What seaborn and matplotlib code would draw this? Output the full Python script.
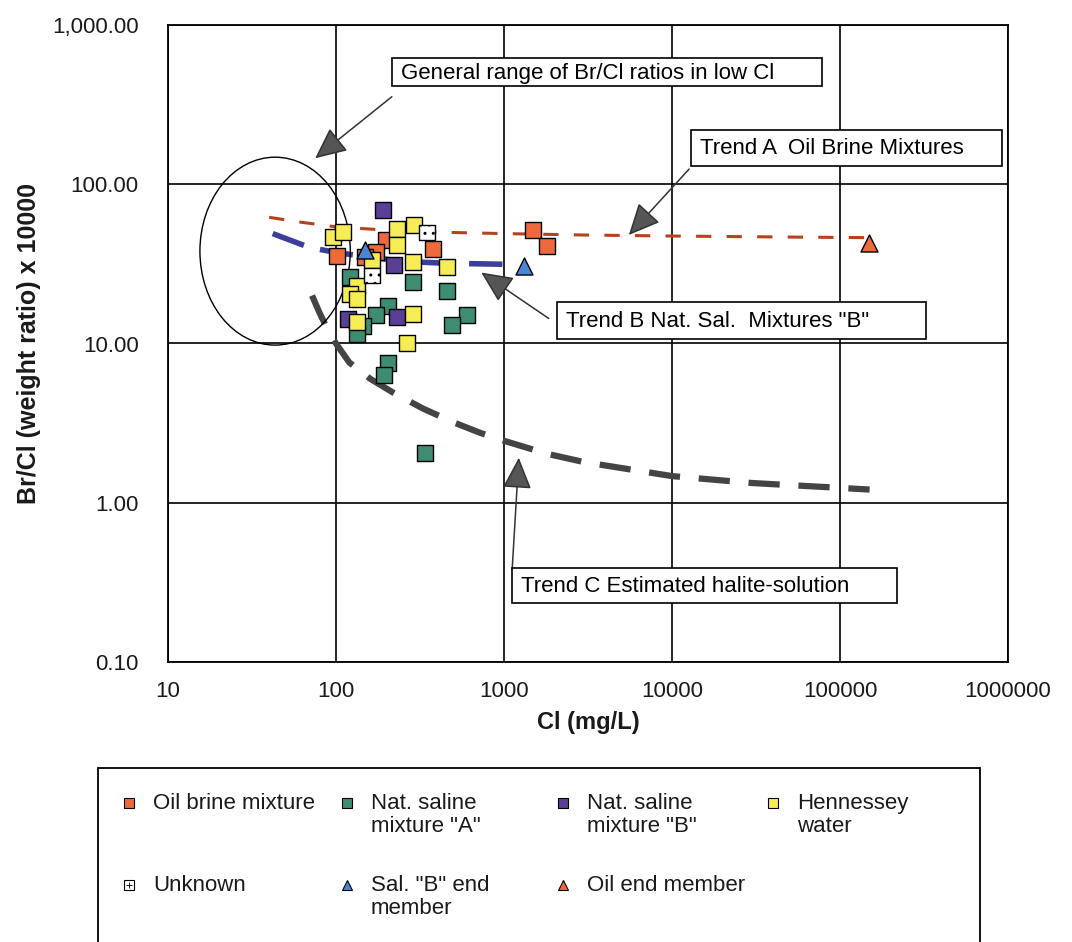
import numpy as np
import pandas as pd
import matplotlib
matplotlib.use("Agg")
import matplotlib.pyplot as plt
import seaborn as sns
from matplotlib.lines import Line2D
from matplotlib.patches import Ellipse, Rectangle, FancyArrowPatch

# ---------------- data ----------------
oil_brine_x = [199, 378, 1490, 1803, 101, 173, 149]
oil_brine_y = [44.5, 39.0, 51.4, 40.7, 35.2, 37.3, 34.8]

nat_a_x = [121, 287, 458, 204, 173, 603, 490, 145, 133, 204, 193, 339]
nat_a_y = [26.0, 24.5, 21.5, 17.1, 15.2, 15.0, 13.0, 12.8, 11.4, 7.5, 6.3, 2.06]

nat_b_x = [190, 221, 231, 118]
nat_b_y = [68.5, 31.0, 14.6, 14.2]

henn_x = [96, 110, 231, 291, 231, 164, 287, 458, 133, 121, 133, 287, 133, 265]
henn_y = [46.4, 49.9, 52.1, 55.2, 41.3, 33.3, 32.3, 30.1, 22.8, 20.6, 18.9, 15.4, 13.7, 10.1]

unknown_x = [348, 164]
unknown_y = [49.9, 26.8]

salb_end_x = [1315, 149]
salb_end_y = [30.5, 38.5]

oil_end_x = [149000]
oil_end_y = [42.6]

trendA_x = [40, 60, 100, 200, 400, 1000, 3000, 10000, 50000, 150000]
trendA_y = [62, 58, 54, 51.5, 50, 49, 48, 47.3, 46.6, 46.2]

trendB_x = [42, 55, 70, 100, 160, 250, 450, 1086]
trendB_y = [49, 44, 40, 37.3, 34.8, 32.8, 31.9, 31.4]

trendC_x = [72, 80, 90, 100, 120, 160, 220, 330, 500, 720, 1000, 1800, 3000,
            10000, 30000, 100000, 150000]
trendC_y = [20, 15.5, 12, 10, 7.6, 6.0, 4.9, 3.9, 3.2, 2.75, 2.45, 2.03, 1.8,
            1.47, 1.33, 1.24, 1.21]

y_ticks = [0.1, 1, 10, 100, 1000]
y_tick_labels = ["0.10", "1.00", "10.00", "100.00", "1,000.00"]
x_ticks = [10, 100, 1000, 10000, 100000, 1000000]
x_tick_labels = ["10", "100", "1000", "10000", "100000", "1000000"]

legend_labels = ["Oil brine mixture", "Nat. saline\nmixture \"A\"", "Nat. saline\nmixture \"B\"",
                 "Hennessey\nwater", "Unknown", "Sal. \"B\" end\nmember", "Oil end member"]

# ---------------- style ----------------
sns.set_style("white")
FONT = ["Liberation Sans", "DejaVu Sans"]
plt.rcParams["font.family"] = FONT

C_ORANGE = "#EE6A3C"
C_GREEN = "#3E8C72"
C_PURPLE = "#5A3F97"
C_YELLOW = "#F6EC55"
C_BLUE = "#4A86D6"
TXT = "#1a1a1a"

W, H = 1072, 942
fig = plt.figure(figsize=(W / 100, H / 100), dpi=100)


def F(px, py):
    return (px / W, 1 - py / H)


ax = fig.add_axes([168 / W, 1 - 662 / H, 840 / W, 637 / H])
ax.set_xscale("log")
ax.set_yscale("log")
ax.set_xlim(10, 1e6)
ax.set_ylim(0.1, 1000)

# trend lines
sns.lineplot(x=trendA_x, y=trendA_y, ax=ax, sort=False, estimator=None,
             color="#B5421C", lw=2.2, zorder=3).lines[-1].set_dashes([5, 5])
sns.lineplot(x=trendB_x, y=trendB_y, ax=ax, sort=False, estimator=None,
             color="#3C3E99", lw=4, zorder=3).lines[-1].set_dashes([6, 3])
sns.lineplot(x=trendC_x, y=trendC_y, ax=ax, sort=False, estimator=None,
             color="#444444", lw=4.5, zorder=3).lines[-1].set_dashes([5, 3])

sq = dict(marker="s", s=120, edgecolor="black", linewidth=1.0, zorder=5, ax=ax, legend=False)
sns.scatterplot(x=oil_brine_x, y=oil_brine_y, color=C_ORANGE, **sq)
sns.scatterplot(x=nat_a_x, y=nat_a_y, color=C_GREEN, **sq)
sns.scatterplot(x=nat_b_x, y=nat_b_y, color=C_PURPLE, **sq)
sns.scatterplot(x=henn_x, y=henn_y, color=C_YELLOW, **sq)
sns.scatterplot(x=unknown_x, y=unknown_y, color="white", hatch="..", **sq)
tri = dict(marker="^", s=150, edgecolor="black", linewidth=1.0, zorder=6, ax=ax, legend=False)
sns.scatterplot(x=salb_end_x, y=salb_end_y, color=C_BLUE, **tri)
sns.scatterplot(x=oil_end_x, y=oil_end_y, color=C_ORANGE, **tri)

ax.set_xticks(x_ticks)
ax.set_xticklabels(x_tick_labels, fontsize=16, color=TXT)
ax.set_yticks(y_ticks)
ax.set_yticklabels(y_tick_labels, fontsize=16, color=TXT)
ax.minorticks_off()
ax.tick_params(axis="y", length=5, width=1.2, color="black", direction="out", pad=16)
ax.tick_params(axis="x", length=0, pad=14)
ax.grid(True, which="major", color="black", lw=1.2)
for s in ax.spines.values():
    s.set_color("black")
    s.set_linewidth(1.3)
ax.set_xlabel("Cl (mg/L)", fontsize=17, fontweight="bold", labelpad=6, color=TXT)
ax.set_ylabel("Br/Cl (weight ratio) x 10000", fontsize=18, fontweight="bold", labelpad=8, color=TXT)

# ellipse showing general range
ax.add_patch(Ellipse((0.1275, 0.645), 0.179, 0.295, transform=ax.transAxes,
                     fill=False, ec="black", lw=1.0, zorder=4))


# annotation boxes
def box(x0, y0, x1, y1, text):
    fx0, fy1 = F(x0, y1)
    fx1, fy0 = F(x1, y0)
    fig.add_artist(Rectangle((fx0, fy1), fx1 - fx0, fy0 - fy1, transform=fig.transFigure,
                             fc="white", ec="black", lw=1.2, zorder=10))
    tx, ty = F(x0 + 9, (y0 + y1) / 2 + 1)
    fig.text(tx, ty, text, ha="left", va="center", fontsize=16, color="black", zorder=11)


def arrow(x0, y0, x1, y1):
    fig.add_artist(FancyArrowPatch(F(x0, y0), F(x1, y1), transform=fig.transFigure,
                                   arrowstyle="-|>,head_length=1.4,head_width=0.65",
                                   mutation_scale=14, fc="#555555", ec="#333333",
                                   lw=1.1, zorder=9))


box(392, 58, 822, 86, "General range of Br/Cl ratios in low Cl")
arrow(394, 95, 313, 160)
box(691, 130, 1002, 166, "Trend A  Oil Brine Mixtures")
arrow(691, 167, 627, 237)
box(557, 302, 926, 339, "Trend B Nat. Sal.  Mixtures \"B\"")
arrow(551, 320, 479, 271)
box(512, 568, 897, 603, "Trend C Estimated halite-solution")
arrow(512, 572, 519, 455)

# legend (manual, fixed-width columns like the original)
fx0, fy1 = F(98, 960)
fx1, fy0 = F(980, 768)
fig.add_artist(Rectangle((fx0, fy1), fx1 - fx0, fy0 - fy1, transform=fig.transFigure,
                         fc="white", ec="black", lw=1.3, zorder=1))
leg_style = [
    dict(marker="s", mfc=C_ORANGE, hatch=None), dict(marker="s", mfc=C_GREEN, hatch=None),
    dict(marker="s", mfc=C_PURPLE, hatch=None), dict(marker="s", mfc=C_YELLOW, hatch=None),
    dict(marker="s", mfc="white", hatch="+"), dict(marker="^", mfc=C_BLUE, hatch=None),
    dict(marker="^", mfc=C_ORANGE, hatch=None),
]
col_x = [129, 347, 563, 773]
row_y = [803, 885]
for i, (lab, st) in enumerate(zip(legend_labels, leg_style)):
    r, c = divmod(i, 4)
    mx, my = F(col_x[c], row_y[r])
    fig.add_artist(Line2D([mx], [my], transform=fig.transFigure, ls="none",
                          marker=st["marker"], mfc=st["mfc"], mec="black", mew=0.8,
                          ms=7, zorder=2))
    if st["hatch"]:
        fig.add_artist(Line2D([mx], [my], transform=fig.transFigure, ls="none",
                              marker="+", mec="black", mew=0.6, ms=5, zorder=3))
    tx, ty = F(col_x[c] + 24, row_y[r] - 10)
    fig.text(tx, ty, lab, ha="left", va="top", fontsize=16,
             linespacing=1.12, color=TXT)

fig.savefig("out.png", dpi=100)
